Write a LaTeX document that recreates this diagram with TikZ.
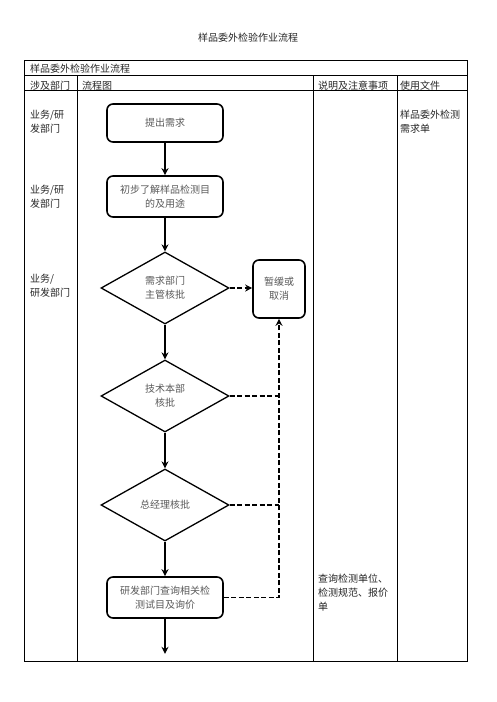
\documentclass[tikz,border=0pt]{standalone}
\usepackage{fontspec}
\setmainfont{Noto Sans CJK SC}
\usetikzlibrary{shapes.geometric, arrows.meta}

\tikzset{bb/.style={draw, line width=1.6pt, rounded corners=6pt, minimum width=116pt, align=center, text=black!65, inner sep=0pt}}
\tikzset{dd/.style={draw, diamond, line width=1.3pt, minimum width=128pt, minimum height=72pt, aspect=1.78, align=center, text=black!65, inner sep=0pt}}
\tikzset{cell/.style={anchor=north west, inner sep=0pt, align=left, text=black!85}}
\tikzset{flow/.style={line width=1.6pt, -{Stealth[length=7pt, width=7pt]}}}
\tikzset{back/.style={flow, dash pattern=on 5pt off 2.5pt}}

\begin{document}
\begin{tikzpicture}[x=1pt, y=-1pt, font=\fontsize{10}{14}\selectfont]
    \useasboundingbox (0,0) rectangle (496,702);

    \draw[line width=0.9pt] (24.5,60) rectangle (467,661);
    \draw[line width=0.9pt] (24.5,75.5) -- (467,75.5);
    \draw[line width=0.9pt] (24.5,90) -- (467,90);
    \draw[line width=0.9pt] (77,75.5) -- (77,661);
    \draw[line width=0.9pt] (313,75.5) -- (313,661);
    \draw[line width=0.9pt] (397,75.5) -- (397,661);

    \node[cell, anchor=north] (title) at (248,33) {样品委外检验作业流程};
    \node[cell] (caption) at (30,64) {样品委外检验作业流程};
    \node[cell] (hdept) at (30,81) {涉及部门};
    \node[cell] (hflow) at (82,81) {流程图};
    \node[cell] (hnote) at (318,81) {说明及注意事项};
    \node[cell] (hdoc) at (400,81) {使用文件};

    \node[cell] (dept1) at (30,110) {业务/研\\发部门};
    \node[cell] (dept2) at (30,185) {业务/研\\发部门};
    \node[cell] (dept3) at (30,274) {业务/\\研发部门};
    \node[cell] (doc1) at (400,110) {样品委外检测\\需求单};
    \node[cell] (note4) at (318,574) {查询检测单位、\\检测规范、报价\\单};

    \node[bb, minimum height=38pt] (need) at (165,123) {提出需求};
    \node[bb, minimum height=41pt] (know) at ([yshift=-73.5pt]need) {初步了解样品检测目\\的及用途};
    \node[dd] (mgr) at ([yshift=-91.5pt]know) {需求部门\\主管核批};
    \node[dd] (tech) at ([yshift=-108pt]mgr) {技术本部\\核批};
    \node[dd] (boss) at ([yshift=-109pt]tech) {总经理核批};
    \node[bb, minimum height=41pt] (inq) at ([yshift=-92.5pt]boss) {研发部门查询相关检\\测试目及询价};
    \node[bb, minimum width=52pt, minimum height=58pt] (hold) at ([xshift=114pt, yshift=-1pt]mgr) {暂缓或\\取消};

    \coordinate (stop) at ([yshift=-35pt]inq.south);
    \coordinate (techj) at (tech -| hold);
    \coordinate (bossj) at (boss -| hold);

    \draw[flow] (need) -- (know);
    \draw[flow] (know) -- (mgr);
    \draw[flow] (mgr) -- (tech);
    \draw[flow] (tech) -- (boss);
    \draw[flow] (boss) -- (inq);
    \draw[flow] (inq) -- (stop);

    \draw[back] (mgr.east) -- (mgr.east -| hold.west);
    \draw[back] (inq) -| (hold);
    \draw[back, -] (tech) -- (techj);
    \draw[back, -] (boss) -- (bossj);

\end{tikzpicture}
\end{document}
